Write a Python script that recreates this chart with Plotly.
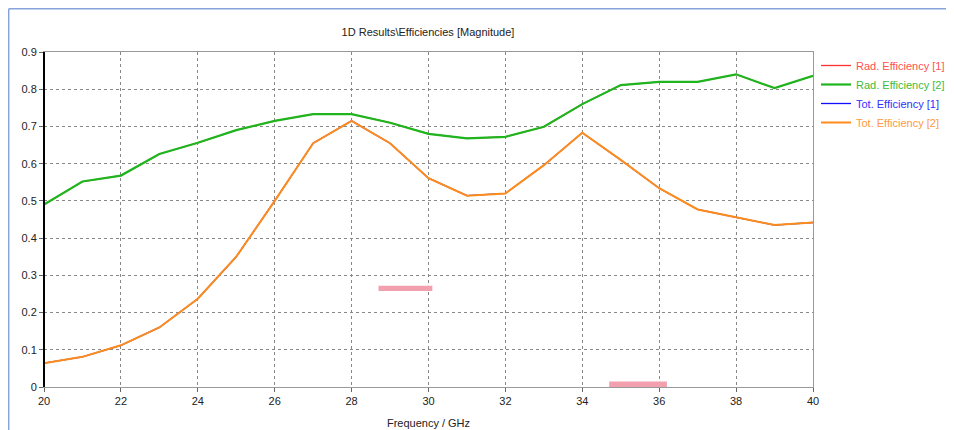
import plotly.graph_objects as go

freq = [20, 21, 22, 23, 24, 25, 26, 27, 28, 29, 30, 31, 32, 33, 34, 35, 36, 37, 38, 39, 40]
rad_eff_2 = [0.49, 0.552, 0.568, 0.626, 0.656, 0.69, 0.715, 0.733, 0.733, 0.71, 0.68, 0.668, 0.672,
             0.699, 0.76, 0.811, 0.82, 0.82, 0.84, 0.803, 0.836]
tot_eff_2 = [0.064, 0.081, 0.112, 0.16, 0.237, 0.35, 0.5, 0.655, 0.715, 0.655, 0.561, 0.514, 0.52,
             0.596, 0.683, 0.61, 0.534, 0.477, 0.456, 0.435, 0.442]
rad_eff_1 = rad_eff_2
tot_eff_1 = tot_eff_2

series_names = ["Rad. Efficiency [1]", "Rad. Efficiency [2]", "Tot. Efficiency [1]", "Tot. Efficiency [2]"]
series_colors = ["#ff3030", "#1fb51f", "#1010ff", "#ff8c1a"]
legend_text_colors = ["#ff5050", "#40bb40", "#3030ff", "#ff9a40"]

# pink marks (artifacts in the original picture), in data coordinates
pink_x0 = [28.7, 34.7]
pink_x1 = [30.1, 36.2]
pink_y0 = [0.258, 0.0]
pink_y1 = [0.272, 0.015]

FONT = "Liberation Sans, Arial"

# page body has an 8px margin; compensate so the plot lands where the reference has it
OFF = 8
W, H = 954 - OFF, 430 - OFF
L, R, T, B = 44 - OFF, 141, 52 - OFF, 43
pw, ph = W - L - R, H - T - B

fig = go.Figure()
data = [rad_eff_1, rad_eff_2, tot_eff_1, tot_eff_2]
widths = [1.3, 2.2, 1.3, 2.0]
for i in range(4):
    fig.add_trace(go.Scatter(
        x=freq, y=data[i], mode="lines",
        name=f"<span style='color:{legend_text_colors[i]}'>{series_names[i]}</span>",
        line=dict(color=series_colors[i], width=widths[i]),
    ))

shapes = []
for a, b, c, d in zip(pink_x0, pink_x1, pink_y0, pink_y1):
    shapes.append(dict(type="rect", xref="x", yref="y", x0=a, x1=b, y0=c, y1=d,
                       fillcolor="#f2a0ae", line=dict(width=0), layer="above"))
# left black axis line
shapes.append(dict(type="line", xref="paper", yref="paper", x0=0, x1=0, y0=0, y1=1,
                   line=dict(color="black", width=2)))
# outer frame (top and left edges visible)
shapes.append(dict(type="line", xref="paper", yref="paper",
                   x0=(0.7 - L) / pw, x1=(W + 10 - L) / pw, y0=1 + (T - 0.7) / ph, y1=1 + (T - 0.7) / ph,
                   line=dict(color="#86a3da", width=1.5)))
shapes.append(dict(type="line", xref="paper", yref="paper",
                   x0=(0.7 - L) / pw, x1=(0.7 - L) / pw, y0=-(B + 10) / ph, y1=1 + (T - 0.7) / ph,
                   line=dict(color="#86a3da", width=1.5)))

fig.update_layout(
    width=W, height=H,
    margin=dict(l=L, r=R, t=T, b=B, autoexpand=False),
    paper_bgcolor="white", plot_bgcolor="white",
    font=dict(family=FONT, size=11, color="#222"),
    title=dict(text="1D Results\\Efficiencies [Magnitude]", x=(428 - OFF) / W, xanchor="center",
               y=1 - (32 - OFF) / H, yanchor="middle", font=dict(family=FONT, size=11, color="#222")),
    showlegend=True,
    legend=dict(x=(816 - OFF - L) / pw, y=1 - ((94 - OFF) - T) / ph, xanchor="left", yanchor="middle",
                bgcolor="rgba(0,0,0,0)", font=dict(family=FONT, size=11),
                traceorder="normal", tracegroupgap=0, itemwidth=30),
    shapes=shapes,
    xaxis=dict(range=[20, 40], dtick=2, tick0=20, showgrid=True, gridcolor="#888",
               griddash="dot", gridwidth=1, showline=True, linecolor="#999", linewidth=1,
               mirror=True, ticks="outside", ticklen=4, tickcolor="#666",
               title=dict(text="Frequency / GHz", standoff=13, font=dict(family=FONT, size=11)),
               tickfont=dict(family=FONT, size=11), zeroline=False),
    yaxis=dict(range=[0, 0.9], dtick=0.1, tick0=0, showgrid=True, gridcolor="#888",
               griddash="dot", gridwidth=1, showline=True, linecolor="#999", linewidth=1,
               mirror=True, ticks="outside", ticklen=4, tickcolor="#666",
               tickfont=dict(family=FONT, size=11), zeroline=False),
)

fig.write_html("out.html")
